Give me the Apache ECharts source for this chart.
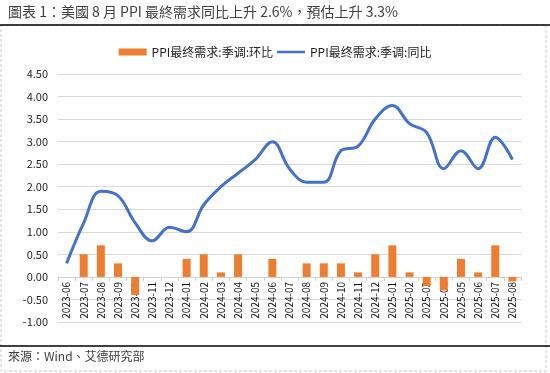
<!DOCTYPE html>
<html><head><meta charset="utf-8">
<script src="https://cdn.jsdelivr.net/npm/echarts@6/dist/echarts.min.js"></script>
<style>html,body{margin:0;padding:0;background:#fff}#c{width:550px;height:373px}</style>
</head><body><div id="c"></div>
<script>
const categories = ['2023-06','2023-07','2023-08','2023-09','2023-10','2023-11','2023-12','2024-01','2024-02','2024-03','2024-04','2024-05','2024-06','2024-07','2024-08','2024-09','2024-10','2024-11','2024-12','2025-01','2025-02','2025-03','2025-04','2025-05','2025-06','2025-07','2025-08'];
const momValues = [0, 0.5, 0.7, 0.3, -0.4, 0, 0, 0.4, 0.5, 0.1, 0.5, 0, 0.4, 0, 0.3, 0.3, 0.3, 0.1, 0.5, 0.7, 0.1, -0.2, -0.3, 0.4, 0.1, 0.7, -0.1];
const yoyValues = [0.3, 1.2, 1.9, 1.8, 1.2, 0.8, 1.1, 1.0, 1.6, 2.0, 2.3, 2.6, 3.0, 2.4, 2.1, 2.1, 2.8, 2.9, 3.5, 3.8, 3.4, 3.2, 2.4, 2.8, 2.4, 3.1, 2.6];
const yTicks = {min: -1, max: 4.5, interval: 0.5};
const momName = 'PPI最终需求:季调:环比';
const yoyName = 'PPI最终需求:季调:同比';
const titleText = '圖表 1：美國 8 月 PPI 最終需求同比上升 2.6%，預估上升 3.3%';
const sourceText = '來源：Wind、艾德研究部';

const chart = echarts.init(document.getElementById('c'), null, {renderer:'canvas'});
const font = '"Noto Sans CJK TC", "Noto Sans", sans-serif';
const gridTop = 74, gridBottom = 51, H = 373;
const plotH = H - gridTop - gridBottom;
const zeroOffset = -plotH * (0 - yTicks.min) / (yTicks.max - yTicks.min);
chart.setOption({
  animation: false,
  textStyle: {fontFamily: font},
  graphic: [
    {type:'rect', shape:{x:1, y:25, width:545, height:346}, style:{fill:'none', stroke:'#c8c8c8', lineWidth:1, lineDash:[3,2]}},
    {type:'text', left:8, top:5, style:{text:titleText, font:'14px ' + font, fill:'#404040'}},
    {type:'line', shape:{x1:0, y1:25, x2:550, y2:25}, style:{stroke:'#000', lineWidth:1.5}},
    {type:'line', shape:{x1:0, y1:346, x2:550, y2:346}, style:{stroke:'#000', lineWidth:1.5}},
    {type:'text', left:8, top:350, style:{text:sourceText, font:'12px ' + font, fill:'#404040'}}
  ],
  legend: {
    top: 41, left: 'center', itemGap: 4, itemWidth: 28, itemHeight: 7,
    textStyle: {fontSize: 12, color: '#222'},
    data: [
      {name: momName, icon: 'rect'},
      {name: yoyName, icon: 'path://M0,0H0.001V0.001H0Z M0,2.2H30V4.8H0Z M29.999,6.999H30V7H29.999Z'}
    ]
  },
  grid: {left: 58, right: 29, top: gridTop, bottom: gridBottom},
  xAxis: {
    type: 'category', data: categories, boundaryGap: true,
    offset: zeroOffset,
    axisLine: {onZero: false, lineStyle: {color: '#d0d0d0'}},
    axisTick: {show: true, length: 4, lineStyle: {color: '#d0d0d0'}},
    axisLabel: {rotate: 90, fontSize: 10, color: '#111', margin: 5, interval: 0}
  },
  yAxis: {
    type: 'value', min: yTicks.min, max: yTicks.max, interval: yTicks.interval,
    axisLine: {show: false}, axisTick: {show: false},
    axisLabel: {fontSize: 11, color: '#222', margin: 10, formatter: v => v.toFixed(2)},
    splitLine: {lineStyle: {color: '#d9d9d9'}}
  },
  series: [
    {name: momName, type: 'bar', data: momValues, barWidth: 8, itemStyle: {color: '#ED7D31'}},
    {name: yoyName, type: 'line', data: yoyValues, smooth: 0.4, symbol: 'none',
     lineStyle: {color: '#4472C4', width: 3}, itemStyle: {color: '#4472C4'}}
  ]
});
</script></body></html>
